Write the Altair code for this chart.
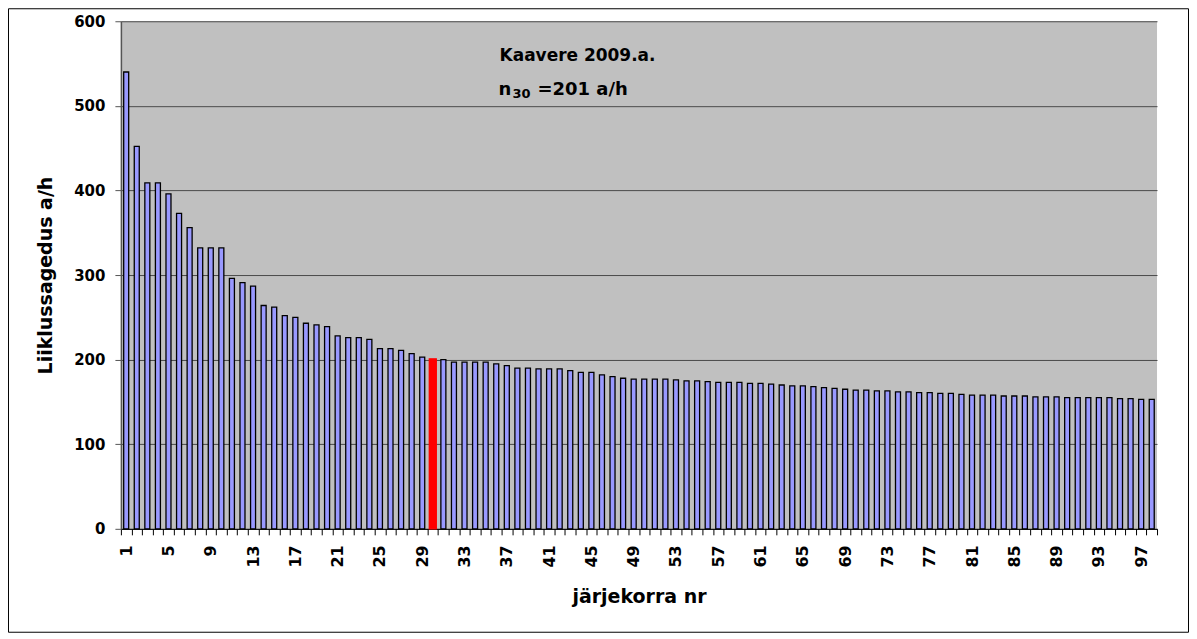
import altair as alt
import pandas as pd

# ---- data ----
rank = list(range(1, 99))
flow = [540, 452, 409, 409, 396, 373, 356, 332, 332, 332,
        296, 291, 287, 264, 262, 252, 250, 243, 241, 239,
        228, 226, 226, 224, 213, 213, 211, 207, 203, 201,
        200, 197, 197, 197, 197, 195, 193, 190, 190, 189,
        189, 189, 187, 185, 185, 182, 180, 178, 177, 177,
        177, 177, 176, 175, 175, 174, 173, 173, 173, 172,
        172, 171, 170, 169, 169, 168, 167, 166, 165, 164,
        164, 163, 163, 162, 162, 161, 161, 160, 160, 159,
        158, 158, 158, 157, 157, 157, 156, 156, 156, 155,
        155, 155, 155, 155, 154, 154, 153, 153]
highlight_rank = 30
y_ticks = [0, 100, 200, 300, 400, 500, 600]
title_line1 = "Kaavere 2009.a."
title_n = "n"
title_sub = "30"
title_rest = "=201 a/h"

df = pd.DataFrame({"n": rank, "v": flow})

W, H = 1037, 508
FONT = "DejaVu Sans"

is_hl = f"datum.n == {highlight_rank}"

bars = alt.Chart(df).mark_bar(strokeWidth=1.3).encode(
    x=alt.X(
        "n:O",
        scale=alt.Scale(paddingInner=0, paddingOuter=0),
        axis=alt.Axis(
            title="järjekorra nr",
            labelExpr="(datum.value - 1) % 4 == 0 ? datum.label : ''",
            labelAngle=270,
            labelAlign="right",
            labelBaseline="middle",
            labelFont=FONT,
            labelFontSize=16,
            labelFontWeight="bold",
            labelColor="black",
            labelPadding=10,
            labelOverlap=False,
            tickBand="extent",
            tickSize=6,
            tickColor="black",
            domainColor="black",
            titleFont=FONT,
            titleFontSize=19,
            titleFontWeight="bold",
            titleColor="black",
            titleY=74,
            titleBaseline="alphabetic",
        ),
    ),
    y=alt.Y(
        "v:Q",
        scale=alt.Scale(domain=[0, 600], nice=False),
        axis=alt.Axis(
            title="Liiklussagedus a/h",
            values=y_ticks,
            grid=True,
            gridColor="#4a4a4a",
            gridWidth=1,
            tickSize=6,
            tickColor="#555555",
            domainColor="#555555",
            domainWidth=1.5,
            labelFont=FONT,
            labelFontSize=15,
            labelFontWeight="bold",
            labelColor="black",
            labelPadding=10,
            titleFont=FONT,
            titleFontSize=19,
            titleFontWeight="bold",
            titleColor="black",
            titlePadding=18,
        ),
    ),
    color=alt.condition(is_hl, alt.value("#FF0000"), alt.value("#9999FF")),
    stroke=alt.condition(is_hl, alt.value("#FF0000"), alt.value("black")),
    size=alt.condition(is_hl, alt.value(7), alt.value(5)),
)

t1 = alt.Chart(pd.DataFrame({"t": [title_line1]})).mark_text(
    font=FONT, fontSize=17, fontWeight="bold", color="black",
    align="center", baseline="middle",
).encode(text="t:N", x=alt.value(457), y=alt.value(35))

t2 = alt.Chart(pd.DataFrame({"t": [title_n]})).mark_text(
    font=FONT, fontSize=18, fontWeight="bold", color="black",
    align="left", baseline="middle",
).encode(text="t:N", x=alt.value(378), y=alt.value(69))

t3 = alt.Chart(pd.DataFrame({"t": [title_sub]})).mark_text(
    font=FONT, fontSize=13, fontWeight="bold", color="black",
    align="left", baseline="middle",
).encode(text="t:N", x=alt.value(392), y=alt.value(73))

t4 = alt.Chart(pd.DataFrame({"t": [title_rest]})).mark_text(
    font=FONT, fontSize=18, fontWeight="bold", color="black",
    align="left", baseline="middle",
).encode(text="t:N", x=alt.value(417), y=alt.value(69))

frame = alt.Chart(pd.DataFrame({"t": [0]})).mark_rect(
    fillOpacity=0, stroke="black", strokeWidth=1, clip=False,
).encode(
    x=alt.value(-112.5), x2=alt.value(W + 31.5),
    y=alt.value(-12.5), y2=alt.value(H + 103.5),
)

chart = alt.layer(bars, t1, t2, t3, t4, frame).properties(
    width=W, height=H,
    autosize=alt.AutoSizeParams(type="none"),
    padding={"left": 113, "top": 13, "right": 32, "bottom": 104},
    background="white",
).configure_view(fill="#C0C0C0", stroke=None)

chart.save("out.html", embed_options={"renderer": "svg", "actions": False})
